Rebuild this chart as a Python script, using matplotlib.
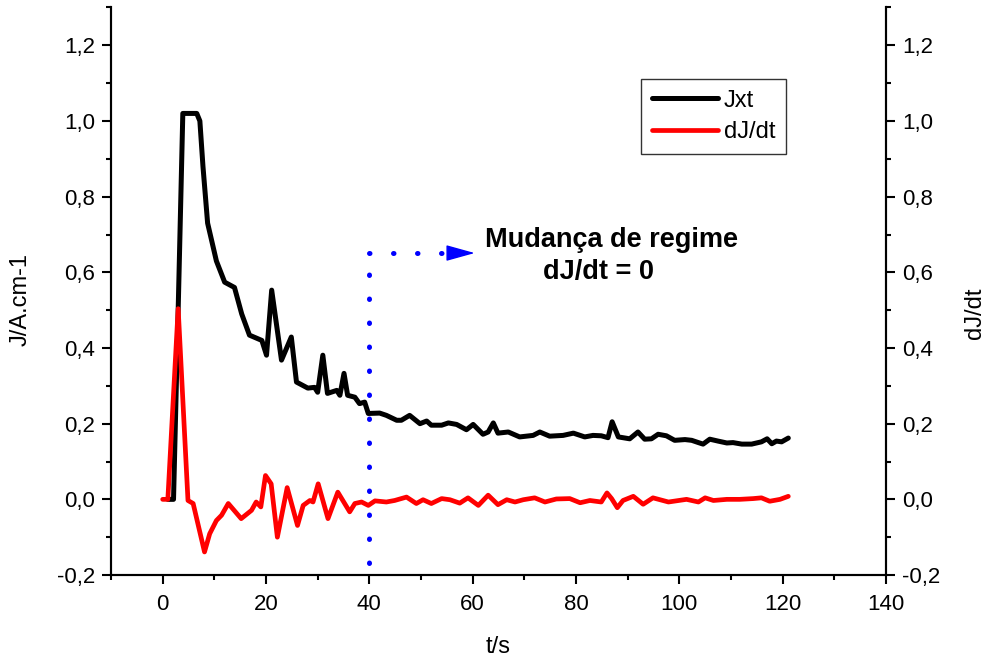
import matplotlib
matplotlib.use("Agg")
import matplotlib.pyplot as plt
from matplotlib.ticker import FixedLocator, FixedFormatter, MultipleLocator

plt.rcParams['font.family'] = ['Liberation Sans', 'DejaVu Sans']

# ---- data ----
t_jxt = [1.0, 2.1, 3.0, 3.9, 6.6, 7.2, 7.8, 8.7, 10.4, 12.0, 13.9, 15.3, 16.8, 19.2, 20.1,
         21.1, 23.0, 24.9, 25.9, 28.1, 29.4, 30.0, 31.0, 31.9, 33.7, 34.3, 35.1, 35.8,
         37.2, 38.1, 39.1, 39.8, 42.0, 43.3, 45.3, 46.2, 47.8, 49.8, 51.1, 52.0, 54.0,
         55.3, 56.9, 58.8, 60.1, 62.0, 63.0, 64.0, 64.9, 66.9, 69.1, 71.7, 73.0, 74.9,
         77.5, 79.5, 81.7, 83.3, 84.9, 86.2, 87.0, 88.2, 90.4, 92.0, 93.3, 94.6, 95.9,
         97.5, 99.1, 101.1, 102.4, 103.7, 104.6, 105.9, 107.5, 109.2, 110.4, 112.1, 114.0,
         115.9, 117.0, 117.9, 118.8, 119.8, 121.1]
jxt = [0.0, 0.0, 0.5, 1.02, 1.02, 1.0, 0.88, 0.73, 0.63, 0.574, 0.56, 0.49, 0.434, 0.42, 0.381,
       0.553, 0.368, 0.429, 0.31, 0.294, 0.296, 0.283, 0.381, 0.28, 0.288, 0.275, 0.333, 0.275,
       0.27, 0.253, 0.257, 0.227, 0.228, 0.222, 0.209, 0.209, 0.222, 0.200, 0.207, 0.196, 0.196,
       0.202, 0.198, 0.184, 0.198, 0.172, 0.178, 0.202, 0.175, 0.178, 0.165, 0.169, 0.178, 0.167,
       0.169, 0.175, 0.165, 0.169, 0.168, 0.163, 0.205, 0.165, 0.160, 0.178, 0.159, 0.160, 0.172,
       0.168, 0.156, 0.158, 0.156, 0.150, 0.146, 0.159, 0.154, 0.149, 0.150, 0.146, 0.146,
       0.152, 0.160, 0.147, 0.154, 0.152, 0.162]

t_djdt = [0.0, 1.0, 3.0, 4.9, 5.9, 8.1, 9.1, 10.4, 11.4, 12.7, 15.2, 17.2, 18.1, 19.0, 19.9,
          21.0, 22.2, 24.1, 26.1, 27.2, 28.5, 29.1, 30.1, 32.0, 33.9, 36.2, 37.2, 38.5, 39.8,
          41.1, 43.3, 44.9, 47.2, 49.1, 50.4, 52.0, 54.0, 55.6, 57.5, 59.1, 61.1, 63.0, 64.9,
          66.6, 68.2, 69.8, 72.0, 74.0, 76.2, 78.8, 80.8, 82.7, 84.9, 86.0, 86.9, 88.0, 89.1,
          91.1, 93.0, 94.9, 97.9, 101.4, 103.7, 105.0, 106.6, 109.2, 111.7, 114.3, 115.9,
          117.5, 119.5, 121.1]
djdt = [0.0, 0.0, 0.504, -0.003, -0.011, -0.139, -0.091, -0.056, -0.042, -0.011, -0.051, -0.029,
        -0.007, -0.020, 0.063, 0.041, -0.100, 0.031, -0.069, -0.016, -0.003, -0.007, 0.041,
        -0.051, 0.019, -0.033, -0.011, -0.007, -0.016, -0.004, -0.007, -0.003, 0.006, -0.011,
        -0.001, -0.011, 0.002, -0.001, -0.010, 0.004, -0.016, 0.011, -0.014, -0.001, -0.007,
        -0.001, 0.004, -0.007, 0.001, 0.002, -0.009, -0.003, -0.007, 0.017, 0.002, -0.022,
        -0.003, 0.008, -0.013, 0.004, -0.007, 0.000, -0.007, 0.004, -0.003, 0.000, 0.000,
        0.002, 0.004, -0.005, 0.000, 0.008]

x_ticks = [0, 20, 40, 60, 80, 100, 120, 140]
x_ticklabels = ['0', '20', '40', '60', '80', '100', '120', '140']
y_ticks = [-0.2, 0.0, 0.2, 0.4, 0.6, 0.8, 1.0, 1.2]
y_ticklabels = ['-0,2', '0,0', '0,2', '0,4', '0,6', '0,8', '1,0', '1,2']

regime_t = 40
regime_ybottom = -0.167
regime_ytop = 0.651
arrow_start = 55.5
arrow_tip = 60.4

# ---- figure ----
fig = plt.figure(figsize=(9.92, 6.63), dpi=100)
ax = fig.add_axes([0.1119, 0.1327, 0.7812, 0.8560])
ax2 = ax.twinx()

xlim = (-10, 140)
ylim = (-0.2, 1.3)

l1, = ax.plot(t_jxt, jxt, color='black', lw=3.6, solid_joinstyle='round',
              solid_capstyle='round', label='Jxt')
l2, = ax2.plot(t_djdt, djdt, color='red', lw=3.4, solid_joinstyle='round',
               solid_capstyle='round', label='dJ/dt')

for a in (ax, ax2):
    a.set_xlim(*xlim)
    a.set_ylim(*ylim)
    a.spines['top'].set_visible(False)
    for s in a.spines.values():
        s.set_linewidth(1.5)

ax.xaxis.set_major_locator(FixedLocator(x_ticks))
ax.xaxis.set_major_formatter(FixedFormatter(x_ticklabels))
ax.xaxis.set_minor_locator(MultipleLocator(10))
for a in (ax, ax2):
    a.yaxis.set_major_locator(FixedLocator(y_ticks))
    a.yaxis.set_major_formatter(FixedFormatter(y_ticklabels))
    a.yaxis.set_minor_locator(MultipleLocator(0.1))

ax.tick_params(axis='both', which='major', direction='out', length=6.5, width=1.5,
               labelsize=16, pad=5)
ax.tick_params(axis='x', which='major', pad=7)
ax.tick_params(axis='both', which='minor', direction='out', length=3.6, width=1.5)
ax2.tick_params(axis='y', which='major', direction='out', length=6.5, width=1.5,
                labelsize=16, pad=5)
ax2.tick_params(axis='y', which='minor', direction='out', length=3.6, width=1.5)

ax.set_xlabel('t/s', fontsize=17)
ax.set_ylabel('J/A.cm-1', fontsize=17)
ax2.set_ylabel('dJ/dt', fontsize=17, rotation=90)
ax.xaxis.set_label_coords(0.5, -0.1075)
ax.yaxis.set_label_coords(-0.103, 0.485)
ax2.yaxis.set_label_coords(1.1006, 0.462)

# regime change marker
dot_style = dict(color='blue', lw=3.6, linestyle=(0, (0.1, 4.7)), dash_capstyle='round')
ax.plot([regime_t, regime_t], [regime_ybottom, regime_ytop], **dot_style)
ax.plot([regime_t, arrow_start], [regime_ytop, regime_ytop], **dot_style)
ax.annotate('', xy=(arrow_tip, regime_ytop), xytext=(arrow_start, regime_ytop),
            arrowprops=dict(arrowstyle='-|>,head_length=1.8,head_width=0.5',
                            color='blue', lw=1, shrinkA=0, shrinkB=0))

ax.text(86.8, 0.685, 'Mudança de regime', fontsize=19.5, fontweight='bold',
        ha='center', va='center')
ax.text(84.4, 0.600, 'dJ/dt = 0', fontsize=19.5, fontweight='bold',
        ha='center', va='center')

leg = ax2.legend(handles=[l1, l2], loc='upper left', bbox_to_anchor=(0.684, 0.874),
                 borderaxespad=0, fontsize=17, frameon=True, fancybox=False,
                 handlelength=2.8, handletextpad=0.25, labelspacing=0.4, borderpad=0.45)
leg.get_frame().set_edgecolor('black')
leg.get_frame().set_linewidth(1.0)

fig.savefig('out.png', dpi=100)
